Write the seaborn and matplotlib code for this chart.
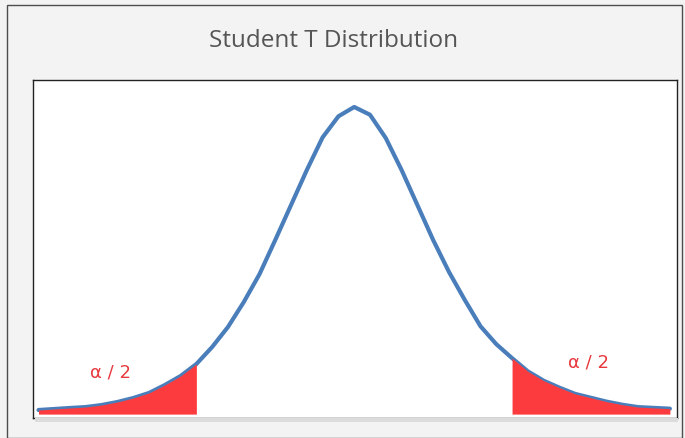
import matplotlib
matplotlib.use("Agg")
import matplotlib.pyplot as plt
import seaborn as sns
import pandas as pd
from matplotlib.patches import Rectangle

# ---- data ----
t_values = [-4.0, -3.8, -3.6, -3.4, -3.2, -3.0, -2.8, -2.6, -2.4, -2.2,
            -2.0, -1.8, -1.6, -1.4, -1.2, -1.0, -0.8, -0.6, -0.4, -0.2,
            0.0, 0.2, 0.4, 0.6, 0.8, 1.0, 1.2, 1.4, 1.6, 1.8,
            2.0, 2.2, 2.4, 2.6, 2.8, 3.0, 3.2, 3.4, 3.6, 3.8, 4.0]
density = [0.0103, 0.0116, 0.0129, 0.0141, 0.0167, 0.0206, 0.0257, 0.0322, 0.0424, 0.054,
           0.0694, 0.0913, 0.117, 0.149, 0.185, 0.229, 0.274, 0.319, 0.361, 0.388,
           0.400, 0.390, 0.360, 0.319, 0.274, 0.229, 0.188, 0.152, 0.118, 0.095,
           0.077, 0.060, 0.048, 0.039, 0.031, 0.026, 0.021, 0.017, 0.014, 0.013, 0.012]
lower_cut = -2.0
upper_cut = 2.0
title_text = "Student T Distribution"
tail_label = "α / 2"

df = pd.DataFrame({"t": t_values, "density": density})
left_tail = df[df["t"] <= lower_cut]
right_tail = df[df["t"] >= upper_cut]

sns.set_theme(style="white")

fig = plt.figure(figsize=(6.85, 4.38), dpi=100)
fig.patch.set_facecolor("#f3f3f3")
W, H = 685, 438

# outer frame
fig.patches.append(Rectangle((7 / W, 0), (682 - 7) / W, 1 - 5 / H,
                             transform=fig.transFigure, fill=False,
                             edgecolor="#4d4d4d", linewidth=1.0))
# soft shadow under the plot box
fig.patches.append(Rectangle((35 / W, 1 - 422 / H), (678 - 35) / W, 4 / H,
                             transform=fig.transFigure, fill=True,
                             facecolor="#dcdcdc", edgecolor="none"))

ax = fig.add_axes([33 / W, 1 - 418 / H, (677 - 33) / W, (418 - 80) / H])
ax.set_facecolor("white")

sns.lineplot(data=df, x="t", y="density", ax=ax, color="#4a7ebb",
             linewidth=3.0, zorder=2)

ax.fill_between(left_tail["t"], 0.005, left_tail["density"],
                color="#fc3b3f", linewidth=0, zorder=3)
ax.fill_between(right_tail["t"], 0.005, right_tail["density"],
                color="#fc3b3f", linewidth=0, zorder=3)

ax.text(-3.09, 0.058, tail_label, color="#e8393f", fontsize=13,
        family="DejaVu Sans", ha="center", va="center")
ax.text(2.97, 0.072, tail_label, color="#e8393f", fontsize=13,
        family="DejaVu Sans", ha="center", va="center")

ax.set_xlim(-4.07, 4.09)
ax.set_ylim(0, 0.4347)
ax.set_xticks([])
ax.set_yticks([])
ax.set_xlabel("")
ax.set_ylabel("")
for s in ax.spines.values():
    s.set_visible(True)
    s.set_color("#222222")
    s.set_linewidth(1.0)

fig.text(334 / W, 1 - 41 / H, title_text, ha="center", va="center",
         fontsize=17.5, color="#555555", family="Open Sans")

fig.savefig("out.png", dpi=100, facecolor=fig.get_facecolor())
